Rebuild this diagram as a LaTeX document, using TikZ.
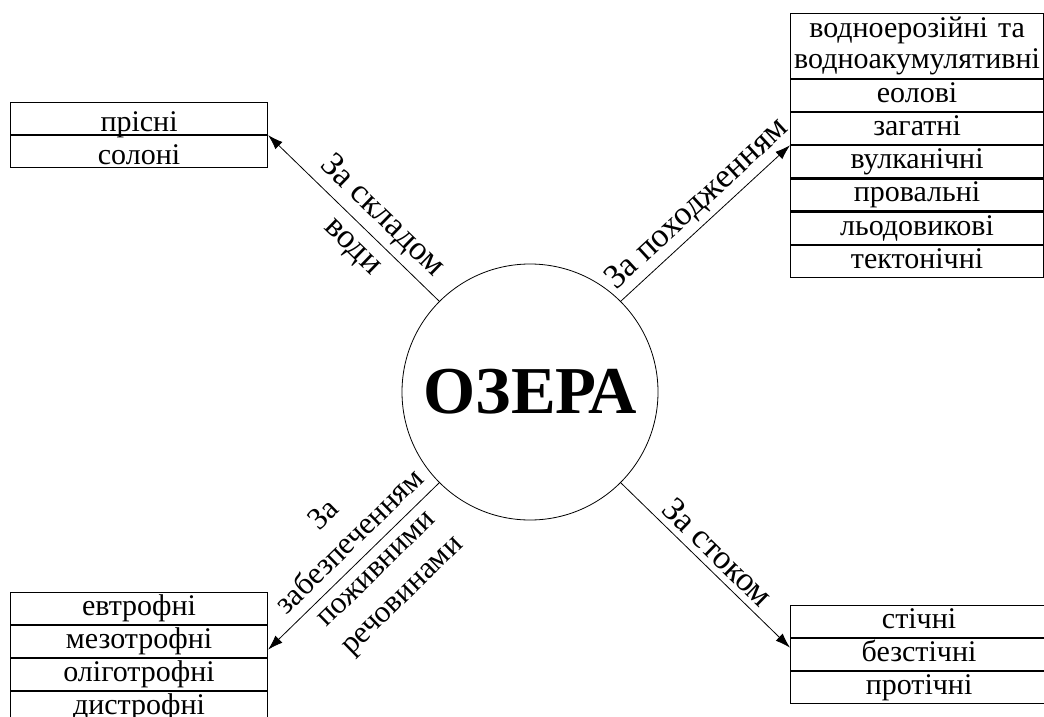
\documentclass[tikz,border=0pt]{standalone}
\usepackage{fontspec}
\setmainfont{Liberation Serif}
\usetikzlibrary{positioning,arrows.meta}
\tikzset{
  cell/.style={draw, line width=1.1pt, minimum width=257pt, minimum height=32pt, inner sep=0pt, font=\fontsize{30}{31}\selectfont},
  row/.style={cell, text height=20pt, text depth=6pt},
  lowrow/.style={cell, text height=26pt, text depth=0pt},
  tag/.style={font=\fontsize{34}{42}\selectfont, align=center},
  link/.style={-{Latex[length=15pt, width=10pt]}, line width=0.8pt}
}
\begin{document}
\begin{tikzpicture}[x=1pt, y=-1pt]
\useasboundingbox (0,0) rectangle (1044,717);
\clip (0,0) rectangle (1044,717);

\node (lake) [circle, draw, line width=0.8pt, minimum size=256pt, inner sep=0pt, font=\fontsize{67}{70}\selectfont\bfseries] at (530,392) {ОЗЕРА};

% за складом води
\node (fresh) [lowrow, anchor=north west] at (10,102) {прісні};
\node (salt) [lowrow, below=0pt of fresh] {солоні};

% за походженням
\node (erosion) [cell, minimum width=253pt, minimum height=65pt, text width=253pt, align=center, anchor=north west] at (790,13) {водноерозійні та\\водноакумулятивні};
\node (eolian) [row, minimum width=253pt, below=0pt of erosion] {еолові};
\node (dammed) [row, minimum width=253pt, below=0pt of eolian] {загатні};
\node (volcanic) [row, minimum width=253pt, below=0pt of dammed] {вулканічні};
\node (sinkhole) [row, minimum width=253pt, below=0pt of volcanic] {провальні};
\node (glacial) [row, minimum width=253pt, below=0pt of sinkhole] {льодовикові};
\node (tectonic) [row, minimum width=253pt, below=0pt of glacial] {тектонічні};

% за забезпеченням поживними речовинами
\node (eutro) [row, anchor=north west] at (10,592) {евтрофні};
\node (meso) [row, below=0pt of eutro] {мезотрофні};
\node (oligo) [row, below=0pt of meso] {оліготрофні};
\node (dystro) [row, below=0pt of oligo] {дистрофні};

% за стоком
\node (runoff) [row, anchor=north west] at (790,605) {стічні};
\node (closed) [row, below=0pt of runoff] {безстічні};
\node (through) [row, below=0pt of closed] {протічні};

\draw[link] (lake.135) -- (fresh.south east) node[tag, pos=0.42, sloped] {За складом\\води};
\draw[link] (lake.45) -- (dammed.south west) node[tag, pos=0.53, sloped, above=1pt] {За походженням};
\draw[link] (lake.225) -- ([yshift=-8pt]meso.east) node[tag, pos=0.44, sloped, font=\fontsize{31}{37}\selectfont] {За\\забезпеченням\\поживними\\речовинами};
\draw[link] (lake.-45) -- ([yshift=7pt]closed.west) node[tag, midway, sloped, above=3pt] {За стоком};
\end{tikzpicture}
\end{document}
